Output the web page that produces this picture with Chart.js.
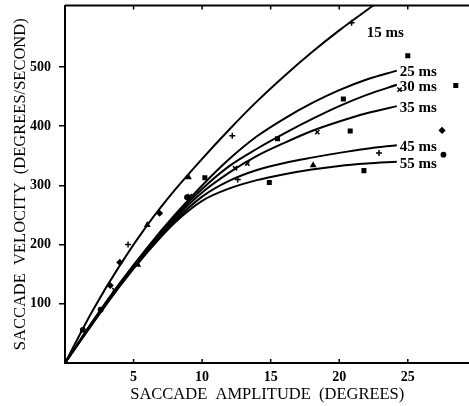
<!DOCTYPE html>
<html>
<head>
<meta charset="utf-8">
<script src="https://cdn.jsdelivr.net/npm/chart.js@4.4.0/dist/chart.umd.min.js"></script>
<style>
  html, body { margin: 0; padding: 0; background: #fff; overflow: hidden; }
</style>
</head>
<body>
<canvas id="myChart" width="475" height="406"></canvas>
<script>
'use strict';

// ******* DATA *******
let xTicks = [5, 10, 15, 20, 25];
let yTicks = [100, 200, 300, 400, 500];

// fitted curves, amplitude (deg) vs peak velocity (deg/s)
let ampFast = [0, 2, 4, 6, 8, 10, 12, 14, 16, 18, 20, 22, 22.6];
let vel15 = [0, 88, 165, 233, 292, 345, 395, 442, 485, 525, 562, 596, 606];

let ampGrid = [0, 2, 4, 6, 8, 10, 12, 14, 16, 18, 20, 22, 24.2];
let vel25 = [0, 70, 135, 195, 250, 300, 345, 383, 413, 439, 461, 479, 494];
let vel30 = [0, 69, 134, 193, 247, 294, 333, 362, 388, 412, 434, 453, 470];
let vel35 = [0, 68, 132, 191, 244, 288, 322, 350, 372, 392, 408, 422, 434];
let vel45 = [0, 67, 131, 189, 240, 281, 308, 326, 338, 347, 355, 362, 368];
let vel55 = [0, 66, 130, 187, 237, 274, 295, 309, 319, 327, 333, 337, 340];

// measured saccades, grouped by marker
let plusAmp = [20.9, 12.2, 4.6, 22.9, 12.6];
let plusVel = [575, 384, 200, 355, 310];
let squareAmp = [25.0, 28.5, 20.3, 20.8, 15.5, 21.8, 14.9, 10.2];
let squareVel = [519, 469, 446, 392, 379, 325, 305, 313];
let crossAmp = [24.4, 18.4, 13.3, 12.4, 9.1, 3.6];
let crossVel = [462, 390, 337, 329, 282, 123];
let triAmp = [18.1, 9.0, 6.0, 5.3];
let triVel = [334, 314, 233, 166];
let diamondAmp = [27.5, 6.9, 4.0, 3.3];
let diamondVel = [393, 253, 170, 131];
let dotAmp = [27.6, 2.6, 1.3, 8.9];
let dotVel = [352, 90, 56, 280];

// ******* HELPERS *******
function toPoints(xs, ys) {
  let pts = [];
  for (let i = 0; i < xs.length; i++) {
    pts.push({ x: xs[i], y: ys[i] });
  }
  return pts;
}

function curve(label, xs, ys) {
  return {
    type: 'line',
    label: label,
    data: toPoints(xs, ys),
    borderColor: '#000',
    borderWidth: 2,
    pointRadius: 0,
    fill: false,
    cubicInterpolationMode: 'monotone'
  };
}

function marks(style, xs, ys, radius) {
  return {
    type: 'scatter',
    data: toPoints(xs, ys),
    pointStyle: style,
    pointRadius: radius,
    borderColor: '#000',
    backgroundColor: '#000',
    borderWidth: 1.5
  };
}

let fastCurve = curve('15 ms', ampFast, vel15);
fastCurve.labelAt = { x: 22.0, y: 558 };

// ******* PLUGINS *******
const curveLabels = {
  id: 'curveLabels',
  afterDatasetsDraw(chart) {
    const ctx = chart.ctx;
    const xs = chart.scales.x;
    const ys = chart.scales.y;
    ctx.save();
    ctx.fillStyle = '#000';
    ctx.font = 'bold 15px "Liberation Serif"';
    ctx.textBaseline = 'middle';
    chart.data.datasets.forEach(ds => {
      if (ds.type !== 'line') return;
      let px, py;
      if (ds.labelAt) {
        px = xs.getPixelForValue(ds.labelAt.x);
        py = ys.getPixelForValue(ds.labelAt.y);
      } else {
        let last = ds.data[ds.data.length - 1];
        px = xs.getPixelForValue(last.x) + 3;
        py = ys.getPixelForValue(last.y) + 2;
      }
      ctx.fillText(ds.label, px, py);
    });
    ctx.restore();
  }
};

const frameTicks = {
  id: 'frameTicks',
  afterDraw(chart) {
    const ctx = chart.ctx;
    const a = chart.chartArea;
    const xs = chart.scales.x;
    ctx.save();
    ctx.strokeStyle = '#000';
    ctx.lineWidth = 2;
    ctx.beginPath();
    ctx.moveTo(a.left, a.top);
    ctx.lineTo(a.right, a.top);
    ctx.stroke();
    ctx.lineWidth = 1.5;
    ctx.beginPath();
    xTicks.forEach(v => {
      let px = xs.getPixelForValue(v);
      ctx.moveTo(px, a.top);
      ctx.lineTo(px, a.top + 4);
      ctx.moveTo(px, a.bottom);
      ctx.lineTo(px, a.bottom - 4);
    });
    ctx.stroke();
    ctx.restore();
  }
};

// ******* CHART *******
const ctx = document.getElementById('myChart').getContext('2d');
const myChart = new Chart(ctx, {
  data: {
    datasets: [
      fastCurve,
      curve('25 ms', ampGrid, vel25),
      curve('30 ms', ampGrid, vel30),
      curve('35 ms', ampGrid, vel35),
      curve('45 ms', ampGrid, vel45),
      curve('55 ms', ampGrid, vel55),
      marks('cross', plusAmp, plusVel, 3),
      marks('rect', squareAmp, squareVel, 2.5),
      marks('crossRot', crossAmp, crossVel, 3),
      marks('triangle', triAmp, triVel, 2.5),
      marks('rectRot', diamondAmp, diamondVel, 2.5),
      marks('circle', dotAmp, dotVel, 2.2)
    ]
  },
  options: {
    responsive: false,
    animation: false,
    layout: { padding: { top: 5, right: 0, left: 0, bottom: 0 } },
    plugins: {
      legend: { display: false },
      tooltip: { enabled: false }
    },
    scales: {
      x: {
        type: 'linear',
        min: 0,
        max: 29.5,
        afterFit(scale) {
          scale.height = 43;
          scale.paddingLeft = 0;
          scale.paddingRight = 0;
        },
        afterBuildTicks(scale) { scale.ticks = xTicks.map(v => ({ value: v })); },
        grid: { display: true, drawOnChartArea: false, drawTicks: false },
        border: { display: true, color: '#000', width: 2 },
        ticks: {
          color: '#000',
          padding: 6,
          maxRotation: 0,
          font: { family: '"Liberation Serif"', size: 14, weight: 'bold' }
        },
        title: {
          display: true,
          text: 'SACCADE  AMPLITUDE  (DEGREES)',
          color: '#000',
          padding: { top: 0, bottom: 1 },
          font: { family: '"Liberation Serif"', size: 16.5 }
        }
      },
      y: {
        type: 'linear',
        min: 0,
        max: 604,
        afterFit(scale) {
          scale.width = 65;
          scale.paddingTop = 0;
          scale.paddingBottom = 0;
        },
        afterBuildTicks(scale) { scale.ticks = yTicks.map(v => ({ value: v })); },
        grid: { display: true, drawOnChartArea: false, drawTicks: true, tickLength: 6, color: '#000', lineWidth: 1.5 },
        border: { display: true, color: '#000', width: 2 },
        ticks: {
          color: '#000',
          padding: 8,
          font: { family: '"Liberation Serif"', size: 14, weight: 'bold' }
        },
        title: {
          display: true,
          text: 'SACCADE  VELOCITY  (DEGREES/SECOND)',
          color: '#000',
          padding: { top: 11, bottom: 0 },
          font: { family: '"Liberation Serif"', size: 16.5 }
        }
      }
    }
  },
  plugins: [curveLabels, frameTicks]
});
</script>
</body>
</html>
